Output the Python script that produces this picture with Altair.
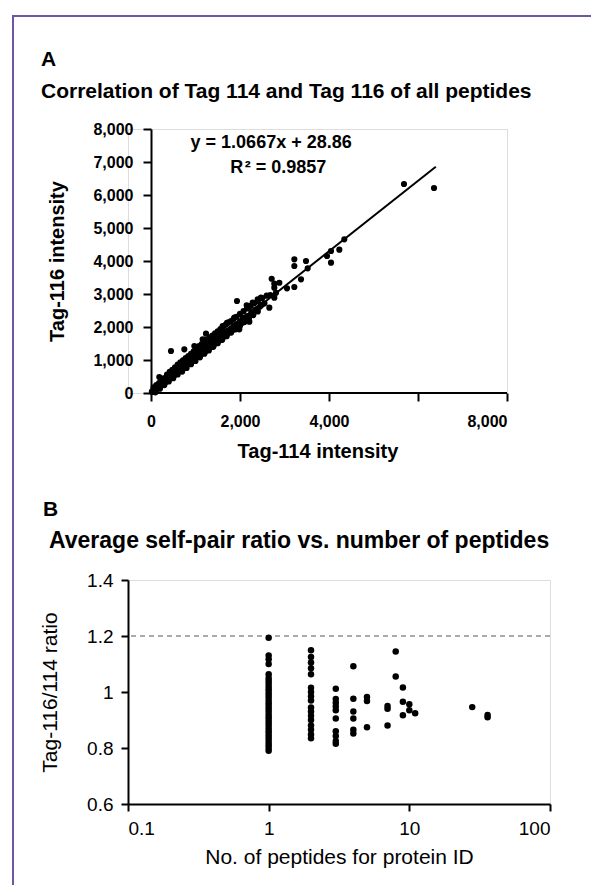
import altair as alt
import pandas as pd

FONT = "Liberation Sans"
BORDER = "#6f55a5"

# ---------------- Panel A data ----------------
a_x = [20, 35, 50, 60, 75, 90, 100, 110, 125, 140, 150, 165, 180, 190, 205, 220, 235, 250,
       260, 275, 290, 300, 315, 330, 345, 360, 375, 390, 400, 420, 430, 445, 460, 475, 490,
       500, 515, 530, 545, 560, 575, 590, 600, 615, 630, 645, 660, 680, 695, 710, 725, 740,
       760, 775, 790, 800, 820, 835, 850, 870, 885, 900, 920, 935, 950, 970, 985, 1000, 1020,
       1040, 1060, 1080, 1100, 1120, 1140, 1160, 1180, 1200, 1220, 1240, 1260, 1290, 1310,
       1340, 1360, 1390, 1410, 1440, 1470, 1500, 1530, 1560, 1590, 1620, 1650, 1680, 1710,
       1740, 1770, 1800, 1830, 1860, 1890, 1920, 1960, 2000, 2040, 2080, 2120, 2160, 2200,
       2250, 2300, 2350, 2400, 2450, 2500, 2550,
       60, 120, 180, 240, 300, 360, 420, 480, 540, 600, 660, 720, 780, 840, 900, 960, 1020,
       1080, 1140, 1200, 1260, 1320, 1380, 1440, 1500, 1560, 1620, 1680, 1740, 1800, 1860,
       1920, 2000, 2080, 2160, 2240, 2320, 2400, 2500, 2600,
       100, 200, 300, 400, 500, 600, 700, 800, 900, 1000, 1100, 1200, 1300, 1400, 1500, 1600,
       1700, 1800, 1900, 2000, 2100, 2200, 2300, 2400,
       449, 749, 974, 1236, 187, 1161, 1423, 1536, 1610, 1708, 1873, 1932, 1985, 2060, 2210,
       2150, 2210, 2285, 2397, 2472, 2771, 2659, 2681, 2809, 2771, 2712, 2771, 2884, 3056,
       3221, 3221, 3221, 3371, 3483, 3521, 4045, 3955, 4045, 4232, 4344, 5685, 6360]
a_y = [40, 60, 30, 90, 70, 120, 85, 150, 110, 170, 140, 200, 160, 230, 210, 260, 225, 300,
       250, 330, 290, 360, 320, 400, 350, 430, 380, 470, 420, 500, 450, 520, 480, 560, 510,
       590, 540, 620, 560, 650, 600, 700, 630, 720, 660, 760, 690, 780, 720, 830, 760, 850,
       800, 900, 830, 930, 860, 960, 900, 1010, 950, 1050, 980, 1080, 1010, 1130, 1040, 1160,
       1080, 1200, 1110, 1250, 1150, 1290, 1190, 1330, 1230, 1370, 1260, 1400, 1300, 1450,
       1350, 1500, 1400, 1560, 1450, 1600, 1530, 1660, 1580, 1720, 1650, 1790, 1720, 1850,
       1780, 1900, 1840, 1960, 1900, 2030, 1960, 2090, 2050, 2170, 2120, 2250, 2230, 2330,
       2320, 2420, 2450, 2530, 2560, 2620, 2680, 2720,
       170, 240, 300, 370, 450, 560, 640, 700, 780, 860, 930, 990, 1060, 1120, 1190, 1260, 1330,
       1420, 1480, 1550, 1620, 1690, 1740, 1810, 1870, 1940, 2000, 2070, 2140, 2180, 2250,
       2310, 2400, 2480, 2560, 2640, 2720, 2780, 2880, 2950,
       20, 130, 240, 350, 450, 560, 650, 760, 870, 970, 1080, 1190, 1290, 1400, 1510, 1610,
       1720, 1830, 1930, 2040, 2150, 2260, 2360, 2470,
       1273, 1324, 1424, 1797, 485, 1627, 1727, 1827, 2030, 2130, 2282, 2788, 1930, 2282,
       2161, 2656, 2585, 2737, 2838, 2888, 2888, 2585, 2969, 3039, 3191, 3463, 3312, 3342,
       3172, 3212, 3848, 4050, 3445, 4000, 3778, 4303, 4151, 3949, 4343, 4657, 6333, 6212]
fit_x = [0, 6400]
fit_y = [29, 6856]
eq_x = [2700, 2860]
eq_y = [7420, 6660]
eq_text = ["y = 1.0667x + 28.86", "R\u200a\u00b2 = 0.9857"]
a_ticks_x = [0, 2000, 4000, 6000, 8000]
a_hidden_x_label = 6000
a_ticks_y = [0, 1000, 2000, 3000, 4000, 5000, 6000, 7000, 8000]

# ---------------- Panel B data ----------------
b_x = [1] * 32 + [2] * 17 + [3] * 10 + [4] * 6 + [5] * 3 + [7] * 3 + [8] * 2 + [9] * 3 + [10] * 2 + [11] + [28] + [36] * 2
b_y = [1.194, 1.13, 1.117, 1.10, 1.063, 1.05, 1.04, 1.03, 1.02, 1.01, 1.0, 0.99, 0.98, 0.97,
       0.96, 0.95, 0.94, 0.93, 0.92, 0.91, 0.90, 0.89, 0.88, 0.87, 0.86, 0.85, 0.84, 0.83,
       0.82, 0.81, 0.80, 0.79,
       1.149, 1.125, 1.105, 1.085, 1.063, 1.015, 1.0, 0.985, 0.97, 0.945, 0.93, 0.915, 0.9,
       0.88, 0.865, 0.848, 0.835,
       1.012, 0.975, 0.962, 0.948, 0.935, 0.905, 0.86, 0.843, 0.825, 0.815,
       1.092, 0.976, 0.93, 0.905, 0.865, 0.852,
       0.982, 0.968, 0.874,
       0.95, 0.94, 0.88,
       1.145, 1.055,
       1.016, 0.965, 0.917,
       0.956, 0.935,
       0.924,
       0.946,
       0.918, 0.91]
b_ticks_x = [0.1, 1, 10, 100]
b_ticks_y = [0.6, 0.8, 1.0, 1.2, 1.4]
b_ref = [1.2]

titleA = ["A", "Correlation of Tag 114 and Tag 116 of all peptides"]
titleB = ["B", "Average self-pair ratio vs. number of peptides"]

# ---------------- Panel A ----------------
A_W, A_H = 379, 264
dfA = pd.DataFrame({"x": a_x, "y": a_y})
dfFit = pd.DataFrame({"x": fit_x, "y": fit_y})
dfEq = pd.DataFrame({"x": eq_x, "y": eq_y, "t": eq_text})
dfAxisA = pd.DataFrame({"x": [0], "x2": [8000], "y": [0]})
oneV = pd.DataFrame({"side": ["left"]})
oneH = pd.DataFrame({"side": ["top"]})

axA_common = dict(labelFont=FONT, labelFontSize=16, labelFontWeight="bold", labelColor="black",
                  titleFont=FONT, titleFontSize=20, titleFontWeight="bold", titleColor="black",
                  domainColor="black", domainWidth=2, tickColor="black", tickWidth=2, tickSize=8,
                  grid=False)
xA = alt.X("x:Q", scale=alt.Scale(domain=[-516.85, 8000], nice=False, zero=False),
           axis=alt.Axis(values=a_ticks_x, domain=False, title="Tag-114 intensity",
                         labelExpr=f"datum.value == {a_hidden_x_label} ? '' : format(datum.value, ',d')",
                         labelPadding=12, titlePadding=12, **axA_common))
yA = alt.Y("y:Q", scale=alt.Scale(domain=[0, 8000], nice=False),
           axis=alt.Axis(values=a_ticks_y, format=",d", offset=-23, title="Tag-116 intensity",
                         labelPadding=10, titlePadding=25, **axA_common))

ptsA = alt.Chart(dfA).mark_circle(size=38, color="black", opacity=1).encode(x=xA, y=yA)
lineA = alt.Chart(dfFit).mark_line(color="black", strokeWidth=2).encode(x=xA, y=yA)
xaxisA = alt.Chart(dfAxisA).mark_rule(color="black", strokeWidth=2).encode(x=xA, x2="x2", y=yA)
eqA = alt.Chart(dfEq).mark_text(font=FONT, fontSize=18, fontWeight="bold", color="black",
                                 align="center", baseline="alphabetic").encode(x=xA, y=yA, text="t:N")
tA1 = alt.Chart(pd.DataFrame({"t": [titleA[0]]})).mark_text(
    font=FONT, fontSize=21, fontWeight="bold", color="black", align="left", baseline="alphabetic"
).encode(x=alt.value(-87), y=alt.value(-63), text="t:N")
tA2 = alt.Chart(pd.DataFrame({"t": [titleA[1]]})).mark_text(
    font=FONT, fontSize=21, fontWeight="bold", color="black", align="left", baseline="alphabetic"
).encode(x=alt.value(-87), y=alt.value(-31), text="t:N")
borderV = alt.Chart(oneV).mark_rect(color=BORDER).encode(
    x=alt.value(-116), x2=alt.value(-114), y=alt.value(-114), y2=alt.value(756))
borderH = alt.Chart(oneH).mark_rect(color=BORDER).encode(
    x=alt.value(-116), x2=alt.value(463), y=alt.value(-114), y2=alt.value(-112))

panelA = alt.layer(ptsA, lineA, xaxisA, eqA, tA1, tA2, borderV, borderH).properties(
    width=A_W, height=A_H)

# ---------------- Panel B ----------------
B_W, B_H = 422, 224
dfB = pd.DataFrame({"x": b_x, "y": b_y})
dfRef = pd.DataFrame({"y": b_ref})
axB_common = dict(labelFont=FONT, labelFontSize=19, labelColor="black",
                  titleFont=FONT, titleFontSize=21, titleFontWeight="normal", titleColor="black",
                  domainColor="black", domainWidth=2, tickColor="black", tickWidth=2, tickSize=7,
                  grid=False)
xB = alt.X("x:Q", scale=alt.Scale(type="log", domain=[0.1, 100], nice=False),
           axis=alt.Axis(values=b_ticks_x, format="~g", title="No. of peptides for protein ID",
                         labelPadding=8, titlePadding=8, **axB_common))
yB = alt.Y("y:Q", scale=alt.Scale(domain=[0.6, 1.4], nice=False, zero=False),
           axis=alt.Axis(values=b_ticks_y, format="~f", title="Tag-116/114 ratio",
                         labelPadding=8, titlePadding=26, **axB_common))

ptsB = alt.Chart(dfB).mark_circle(size=42, color="black", opacity=1).encode(x=xB, y=yB)
refB = alt.Chart(dfRef).mark_rule(color="#555555", strokeWidth=1, strokeDash=[5, 4]).encode(y=yB)
tB1 = alt.Chart(pd.DataFrame({"t": [titleB[0]]})).mark_text(
    font=FONT, fontSize=21, fontWeight="bold", color="black", align="left", baseline="alphabetic"
).encode(x=alt.value(-85), y=alt.value(-64), text="t:N")
tB2 = alt.Chart(pd.DataFrame({"t": [titleB[1]]})).mark_text(
    font=FONT, fontSize=23, fontWeight="bold", color="black", align="left", baseline="alphabetic"
).encode(x=alt.value(-79), y=alt.value(-32), text="t:N")

panelB = alt.layer(refB, ptsB, tB1, tB2).properties(width=B_W, height=B_H)

chart = alt.VConcatChart(vconcat=[panelA, panelB], spacing=187, bounds="flush").properties(
    padding={"left": 3, "top": 6, "right": 0, "bottom": 0}
).configure_view(stroke=None).configure(background="white")

chart.save("out.html", embed_options={"renderer": "svg", "actions": False})
